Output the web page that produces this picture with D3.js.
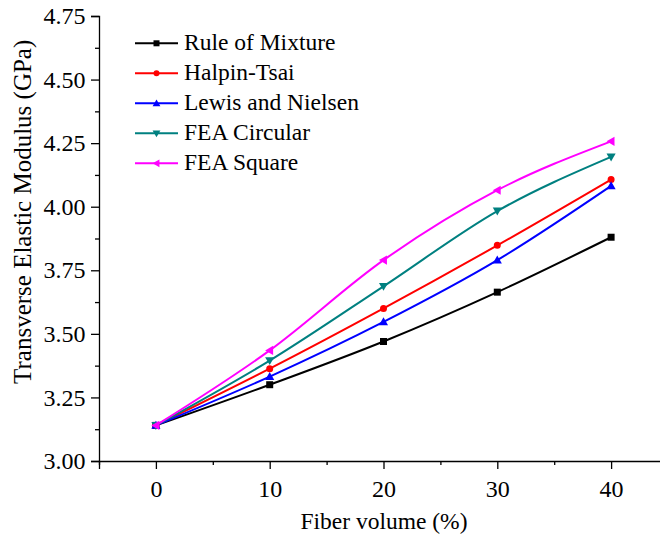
<!DOCTYPE html>
<html>
<head>
<meta charset="utf-8">
<script src="https://cdn.jsdelivr.net/npm/d3@7"></script>
<style>
  body { margin: 0; background: #fff; }
  svg { display: block; }
</style>
</head>
<body>
<div id="chart"></div>
<script>
// data
const fiberVolume = [0, 10, 20, 30, 40]
const ruleOfMixture = [3.14, 3.30, 3.47, 3.664, 3.88]
const halpinTsai = [3.14, 3.363, 3.60, 3.848, 4.107]
const lewisNielsen = [3.14, 3.332, 3.547, 3.79, 4.082]
const feaCircular = [3.14, 3.395, 3.687, 3.983, 4.196]
const feaSquare = [3.14, 3.435, 3.79, 4.065, 4.257]

const seriesNames = ["Rule of Mixture", "Halpin-Tsai", "Lewis and Nielsen", "FEA Circular", "FEA Square"]
const seriesValues = [ruleOfMixture, halpinTsai, lewisNielsen, feaCircular, feaSquare]
const seriesColors = ["#000000", "#ff0000", "#0000ff", "#008080", "#ff00ff"]
const seriesSymbols = ["square", "circle", "up", "down", "left"]

const xTicks = [0, 10, 20, 30, 40]
const xMinor = [-5, 5, 15, 25, 35, 45]
const yTicks = [3.00, 3.25, 3.50, 3.75, 4.00, 4.25, 4.50, 4.75]
const yMinor = [3.125, 3.375, 3.625, 3.875, 4.125, 4.375, 4.625]

let width = 660
let height = 540
let font = "Liberation Serif, Tinos, DejaVu Serif, serif"
let tickSize = 24
let labelSize = 23.5

let x = d3.scaleLinear().domain([-5, 45]).range([99, 668])
let y = d3.scaleLinear().domain([3, 4.75]).range([461, 16])

let svg = d3.select("#chart").append("svg")
  .attr("width", width)
  .attr("height", height)
  .attr("viewBox", [0, 0, width, height])
  .style("font-family", font)

// axes
let xAxis = svg.append("g")
  .attr("transform", `translate(0,${y(3)})`)
  .call(d3.axisBottom(x).tickValues(xTicks).tickSize(8).tickFormat(d3.format("d")))
xAxis.append("g")
  .call(d3.axisBottom(x).tickValues(xMinor).tickSize(4).tickFormat(""))
  .select(".domain").remove()

let yAxis = svg.append("g")
  .attr("transform", `translate(${x(-5)},0)`)
  .call(d3.axisLeft(y).tickValues(yTicks).tickSize(8).tickFormat(d3.format(".2f")))
yAxis.append("g")
  .call(d3.axisLeft(y).tickValues(yMinor).tickSize(4).tickFormat(""))
  .select(".domain").remove()

svg.selectAll("g").attr("font-family", null)
svg.selectAll(".domain, .tick line")
  .attr("stroke", "#000").attr("stroke-width", 1.3)
svg.selectAll(".tick text")
  .style("font-family", font).attr("font-size", tickSize).attr("fill", "#000")
xAxis.selectAll(".tick text").attr("dy", "1.05em")
yAxis.selectAll(".tick text").attr("dx", "-0.1em")

// axis titles
svg.append("text")
  .attr("x", 384).attr("y", 529)
  .attr("text-anchor", "middle")
  .style("font-family", font).attr("font-size", labelSize)
  .text("Fiber volume (%)")

svg.append("text")
  .attr("transform", `translate(31,${y(3.98)}) rotate(-90)`)
  .attr("text-anchor", "middle")
  .style("font-family", font).attr("font-size", 25)
  .text("Transverse Elastic Modulus (GPa)")

// markers
function symbolPath(kind, cx, cy, s) {
  if (kind === "square") return `M${cx - s},${cy - s}h${2 * s}v${2 * s}h${-2 * s}Z`
  if (kind === "circle") return `M${cx - s},${cy}a${s},${s} 0 1,0 ${2 * s},0a${s},${s} 0 1,0 ${-2 * s},0Z`
  let t = s * 1.3
  if (kind === "up") return `M${cx},${cy - t}L${cx + t},${cy + t * 0.75}L${cx - t},${cy + t * 0.75}Z`
  if (kind === "down") return `M${cx},${cy + t}L${cx + t},${cy - t * 0.75}L${cx - t},${cy - t * 0.75}Z`
  return `M${cx - t},${cy}L${cx + t * 0.75},${cy - t}L${cx + t * 0.75},${cy + t}Z`
}

let line = d3.line()
  .x((d, i) => x(fiberVolume[i]))
  .y(d => y(d))
  .curve(d3.curveMonotoneX)

seriesValues.forEach((vals, k) => {
  let g = svg.append("g")
  g.append("path")
    .attr("d", line(vals))
    .attr("fill", "none")
    .attr("stroke", seriesColors[k])
    .attr("stroke-width", 2)
  g.selectAll("path.m")
    .data(vals)
    .join("path")
    .attr("class", "m")
    .attr("d", (d, i) => symbolPath(seriesSymbols[k], x(fiberVolume[i]), y(d), 3.5))
    .attr("fill", seriesColors[k])
})

// legend
let legend = svg.append("g")
seriesNames.forEach((name, k) => {
  let ly = 43.3 + k * 30
  legend.append("line")
    .attr("x1", 135).attr("x2", 178).attr("y1", ly).attr("y2", ly)
    .attr("stroke", seriesColors[k]).attr("stroke-width", 2)
  legend.append("path")
    .attr("d", symbolPath(seriesSymbols[k], 156.5, ly, 3))
    .attr("fill", seriesColors[k])
  legend.append("text")
    .attr("x", 184).attr("y", ly + 6.5)
    .style("font-family", font).attr("font-size", labelSize)
    .text(name)
})
</script>
</body>
</html>
